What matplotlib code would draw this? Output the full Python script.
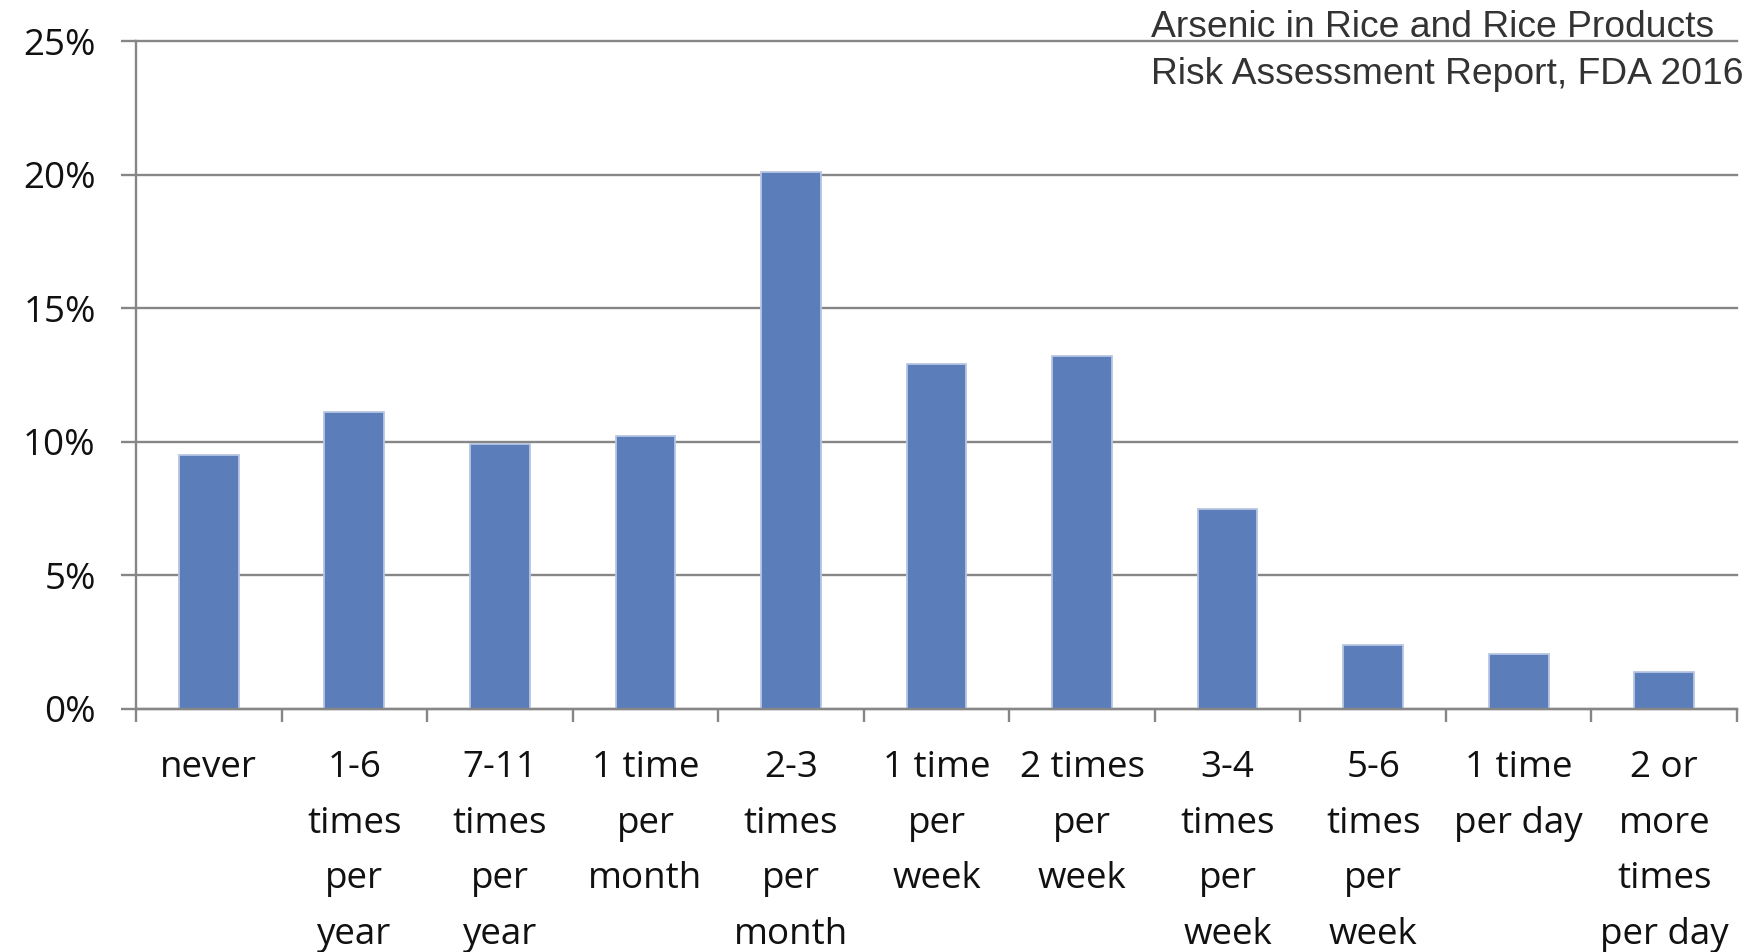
import matplotlib
matplotlib.use("Agg")
import matplotlib.pyplot as plt
import numpy as np

# Dados (percentual de consumo de arroz por frequência)
categorias = [
    "never",
    "1-6\ntimes\nper\nyear",
    "7-11\ntimes\nper\nyear",
    "1 time\nper\nmonth",
    "2-3\ntimes\nper\nmonth",
    "1 time\nper\nweek",
    "2 times\nper\nweek",
    "3-4\ntimes\nper\nweek",
    "5-6\ntimes\nper\nweek",
    "1 time\nper day",
    "2 or\nmore\ntimes\nper day",
]
percentuais = [9.5, 11.1, 9.9, 10.2, 20.1, 12.9, 13.2, 7.5, 2.4, 2.05, 1.4]
yticks = [0, 5, 10, 15, 20, 25]
ytick_labels = ["0%", "5%", "10%", "15%", "20%", "25%"]
titulo = ["Arsenic in Rice and Rice Products", "Risk Assessment Report, FDA 2016"]

fonte_rotulos = "Open Sans"
cinza = "#868686"
azul = "#5B7DBA"

fig = plt.figure(figsize=(17.47, 9.52), dpi=100)
ax = fig.add_axes([136 / 1747, 1 - 709 / 952, (1737 - 136) / 1747, (709 - 41) / 952])

x = np.arange(len(categorias))
ax.bar(x, percentuais, width=0.41, color=azul, edgecolor="#B8C6E3", linewidth=1.3, zorder=2)

ax.set_xlim(-0.5, len(categorias) - 0.5)
ax.set_ylim(0, 25)
ax.set_axisbelow(True)

ax.set_yticks(yticks)
ax.set_yticklabels(ytick_labels, fontsize=26.5, family=fonte_rotulos, color="#111111")
ax.yaxis.grid(True, color=cinza, linewidth=1.7)
for linha in ax.get_ygridlines():
    linha.set_clip_on(False)
ax.tick_params(axis="y", length=11, width=1.7, color=cinza, pad=18)

ax.set_xticks(x)
ax.set_xticklabels(categorias, fontsize=26.5, family=fonte_rotulos, linespacing=1.73,
                   va="top", color="#111111")
ax.set_xticks(np.arange(-0.5, len(categorias)), minor=True)
ax.tick_params(axis="x", which="major", length=0, pad=29.5)
ax.tick_params(axis="x", which="minor", length=9, width=1.7, color=cinza)

for lado in ["top", "right"]:
    ax.spines[lado].set_visible(False)
for lado in ["left", "bottom"]:
    ax.spines[lado].set_color(cinza)
    ax.spines[lado].set_linewidth(1.7)

# Título no canto superior direito
fig.text(1151 / 1747, 1 - 37 / 952, titulo[0], fontsize=26.8, family="Liberation Sans", color="#333333")
fig.text(1151 / 1747, 1 - 84 / 952, titulo[1], fontsize=26.8, family="Liberation Sans", color="#333333")

fig.savefig("out.png", dpi=100, facecolor="white")
